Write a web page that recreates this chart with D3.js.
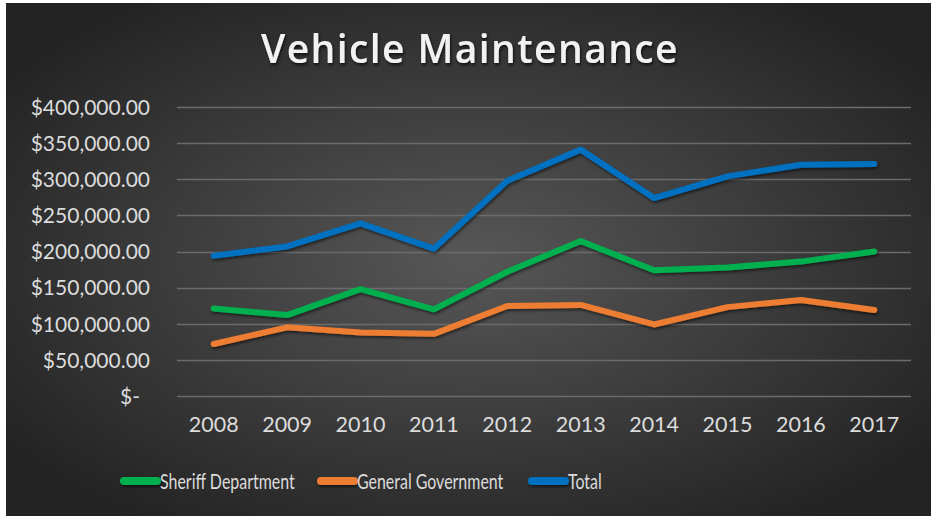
<!DOCTYPE html>
<html>
<head>
<meta charset="utf-8">
<script src="https://cdn.jsdelivr.net/npm/d3@7"></script>
<style>
  html, body { margin: 0; padding: 0; background: #ffffff; }
  svg { display: block; }
</style>
</head>
<body>
<svg id="chart" width="931" height="516"></svg>
<script>
// Yearly vehicle maintenance spending
const years = ["2008", "2009", "2010", "2011", "2012", "2013", "2014", "2015", "2016", "2017"];
const sheriff = [121000, 112000, 148000, 120000, 172000, 214500, 174000, 178000, 186000, 200000];
const generalGov = [72000, 95000, 88000, 86000, 124500, 126000, 99000, 123000, 133000, 119000];
const total = [194000, 207000, 239000, 204000, 298000, 341000, 274000, 304000, 320000, 321000];
const seriesNames = ["Sheriff Department", "General Government", "Total"];
const seriesColors = ["#00b050", "#ed7d31", "#0070c0"];
const yTicks = [0, 50000, 100000, 150000, 200000, 250000, 300000, 350000, 400000];

const series = [sheriff, generalGov, total].map((vals, i) => ({
  name: seriesNames[i], color: seriesColors[i], values: vals
}));

const W = 931, H = 516;
const svg = d3.select("#chart");
const defs = svg.append("defs");

// Dark radial backdrop
const grad = defs.append("radialGradient").attr("id", "bg")
  .attr("cx", "50%").attr("cy", "50%").attr("r", "62%");
grad.append("stop").attr("offset", "0%").attr("stop-color", "#575757");
grad.append("stop").attr("offset", "100%").attr("stop-color", "#232323");

const shadow = defs.append("filter").attr("id", "shadow")
  .attr("filterUnits", "userSpaceOnUse")
  .attr("x", -50).attr("y", -50).attr("width", W + 100).attr("height", H + 100);
shadow.append("feDropShadow").attr("dx", 1).attr("dy", 2).attr("stdDeviation", 1.5)
  .attr("flood-color", "#000").attr("flood-opacity", 0.55);

const tshadow = defs.append("filter").attr("id", "tshadow")
  .attr("x", "-5%").attr("y", "-20%").attr("width", "110%").attr("height", "150%");
tshadow.append("feDropShadow").attr("dx", 1).attr("dy", 2).attr("stdDeviation", 1.5)
  .attr("flood-color", "#000").attr("flood-opacity", 0.7);

svg.append("rect").attr("x", 6).attr("y", 3).attr("width", W - 6).attr("height", H - 3)
  .attr("fill", "url(#bg)");

const x = d3.scaleBand().domain(years).range([177, 911]);
const y = d3.scaleLinear().domain([0, 400000]).range([396, 107]);

// Title
svg.append("text")
  .attr("x", 470).attr("y", 63)
  .attr("text-anchor", "middle")
  .attr("font-family", "'Open Sans', sans-serif")
  .attr("font-weight", 600)
  .attr("font-size", 39)
  .attr("letter-spacing", 1.4)
  .attr("fill", "#f2f2f2")
  .attr("filter", "url(#tshadow)")
  .text("Vehicle Maintenance");

// Gridlines
svg.append("g")
  .selectAll("line").data(yTicks).join("line")
  .attr("x1", 177).attr("x2", 911)
  .attr("y1", d => Math.round(y(d)) + 0.5).attr("y2", d => Math.round(y(d)) + 0.5)
  .attr("stroke", "#6b6b6b").attr("stroke-width", 1.5);

// Y axis labels
const money = v => v === 0 ? "$-" : "$" + d3.format(",.2f")(v);
const yAxis = d3.axisLeft(y).tickValues(yTicks).tickFormat(money).tickSize(0).tickPadding(0);
const gy = svg.append("g").attr("transform", "translate(150,0)").call(yAxis);
gy.select(".domain").remove();
gy.selectAll("text")
  .attr("font-family", "Lato, sans-serif").attr("font-size", 21)
  .attr("fill", "#dcdcdc").attr("dy", "0.35em");
gy.selectAll("text").filter(d => d === 0).attr("dx", -10);

// X axis labels
const xAxis = d3.axisBottom(x).tickSize(0).tickPadding(0);
const gx = svg.append("g").attr("transform", "translate(0,416)").call(xAxis);
gx.select(".domain").remove();
gx.selectAll("text")
  .attr("font-family", "Lato, sans-serif").attr("font-size", 21.5)
  .attr("fill", "#dcdcdc").attr("dy", "0.75em");

// Lines
const line = d3.line()
  .x((d, i) => x(years[i]) + x.bandwidth() / 2)
  .y(d => y(d));

svg.append("g").selectAll("path").data(series).join("path")
  .attr("d", d => line(d.values))
  .attr("fill", "none")
  .attr("stroke", d => d.color)
  .attr("stroke-width", 6)
  .attr("stroke-linejoin", "round")
  .attr("stroke-linecap", "round")
  .attr("filter", "url(#shadow)");

// Legend
const legendX = [120, 317, 528];
const lg = svg.append("g").selectAll("g").data(series).join("g")
  .attr("transform", (d, i) => `translate(${legendX[i]},481)`);
lg.append("path")
  .attr("d", "M4,0H37")
  .attr("stroke", d => d.color).attr("stroke-width", 8)
  .attr("stroke-linecap", "round")
  .attr("filter", "url(#shadow)");
lg.append("text")
  .attr("x", 40).attr("y", 0).attr("dy", "0.36em")
  .attr("font-family", "Lato, sans-serif").attr("font-size", 21)
  .attr("fill", "#dcdcdc")
  .attr("transform", "translate(40,0) scale(0.76,1) translate(-40,0)")
  .text(d => d.name);
</script>
</body>
</html>
